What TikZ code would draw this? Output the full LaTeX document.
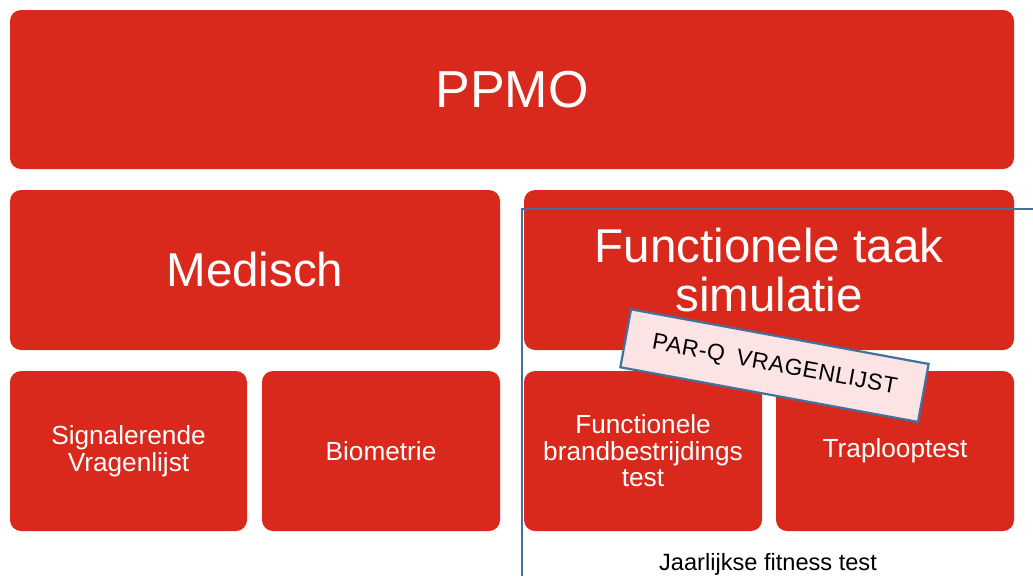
\documentclass[tikz,border=0pt]{standalone}
\usepackage{fontspec}
\setmainfont{Liberation Sans}
\definecolor{boxred}{RGB}{217,41,29}
\definecolor{linkblue}{RGB}{65,113,156}
\definecolor{notepink}{RGB}{251,228,227}
\begin{document}
\begin{tikzpicture}[x=1pt,y=-1pt,
  redbox/.style={draw=none,fill=boxred,rounded corners=11pt,text=white,align=center,inner sep=0pt},
  bigtext/.style={font=\fontsize{47.5}{49}\selectfont},
  smalltext/.style={font=\fontsize{26.2}{26.5}\selectfont},
  notebox/.style={draw=linkblue,line width=2.2pt,fill=notepink,inner sep=0pt,
    font=\fontsize{23}{24}\selectfont\addfontfeature{LetterSpace=2.5},text=black},
  blueline/.style={draw=linkblue,line width=2.5pt}]
\useasboundingbox (0,0) rectangle (1033,576);
\fill[white] (0,0) rectangle (1033,576);
% top
\node[redbox,minimum width=1004pt,minimum height=159pt,font=\fontsize{52}{56}\selectfont] (ppmo) at (512,89.5) {PPMO};
% second row
\node[redbox,bigtext,minimum width=490pt,minimum height=160pt] (medisch) at (255,270) {Medisch};
\node[redbox,bigtext,minimum width=490pt,minimum height=160pt] (fts) at (769,270) {Functionele taak\\simulatie};
% third row
\node[redbox,smalltext,minimum width=237pt,minimum height=160pt] (sig) at (128.5,451) {Signalerende\\Vragenlijst};
\node[redbox,smalltext,minimum width=238pt,minimum height=160pt] (bio) at (381,451) {Biometrie};
\node[redbox,smalltext,minimum width=238pt,minimum height=160pt] (fbt) at (643,451) {Functionele\\brandbestrijdings\\test};
\node[redbox,smalltext,minimum width=238pt,minimum height=160pt] (trap) at (895,451) {Traplooptest};
% blue bracket lines
\coordinate (corner) at (522,209);
\coordinate (rightend) at (1033,209);
\coordinate (bottomend) at (522,576);
\draw[blueline] (rightend) -- (corner) -- (bottomend);
% label
\node[anchor=base,font=\fontsize{23.6}{25}\selectfont] (jft) at (768,570) {Jaarlijkse fitness test};
% rotated note
\node[notebox,rotate=-10.4,minimum width=302.6pt,minimum height=58.9pt] (parq) at (774.5,365.6) {PAR-Q\hspace{5pt} VRAGENLIJST};
\end{tikzpicture}
\end{document}
